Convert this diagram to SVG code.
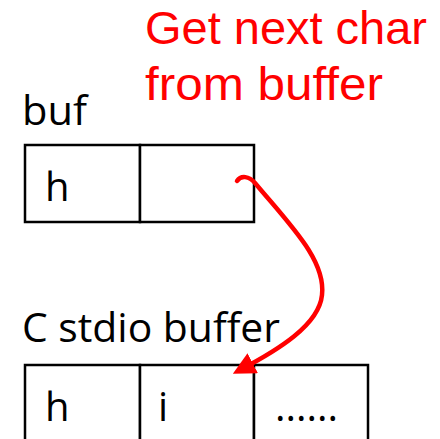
<svg xmlns="http://www.w3.org/2000/svg" width="440" height="439" viewBox="0 0 440 439">
  <style>
    .cell { fill: #fff; stroke: #000; stroke-width: 2.5; }
    .lbl { font-family: "Open Sans", "Liberation Sans", sans-serif; font-size: 40px; fill: #000; }
    .note { font-family: "Liberation Sans", sans-serif; font-size: 46px; fill: #f00; }
    .link { fill: none; stroke: #f00; stroke-width: 4.5; stroke-linecap: round; }
  </style>
  <defs>
    <marker id="head" markerWidth="5" markerHeight="5" refX="3.2" refY="2.5" orient="auto" markerUnits="strokeWidth">
      <path d="M0,0 L5,2.5 L0,5 Z" fill="#f00"/>
    </marker>
  </defs>

  <rect width="440" height="439" fill="#fff"/>

  <g id="note">
    <text class="note" x="145" y="44" textLength="282" lengthAdjust="spacingAndGlyphs">Get next char</text>
    <text class="note" x="145" y="100" textLength="238" lengthAdjust="spacingAndGlyphs">from buffer</text>
  </g>

  <g id="buf">
    <text class="lbl" x="22" y="125" textLength="65" lengthAdjust="spacingAndGlyphs">buf</text>
    <rect class="cell" x="25" y="145" width="115" height="77"/>
    <rect class="cell" x="140" y="145" width="114" height="77"/>
    <text class="lbl" x="45" y="201">h</text>
  </g>

  <g id="stdio">
    <text class="lbl" x="22" y="342" textLength="258" lengthAdjust="spacingAndGlyphs">C stdio buffer</text>
    <rect class="cell" x="25" y="365" width="115" height="80"/>
    <rect class="cell" x="140" y="365" width="114" height="80"/>
    <rect class="cell" x="254" y="365" width="114" height="80"/>
    <text class="lbl" x="45" y="421">h</text>
    <text class="lbl" x="158" y="421">i</text>
    <text class="lbl" x="275" y="421" textLength="63" lengthAdjust="spacing">......</text>
  </g>

  <g id="connectors">
    <path class="link" marker-end="url(#head)" d="M237,181 C241,175 249,176 255,183 C290,225 326,260 322,295 C319,325 278,350 240,370"/>
  </g>
</svg>
